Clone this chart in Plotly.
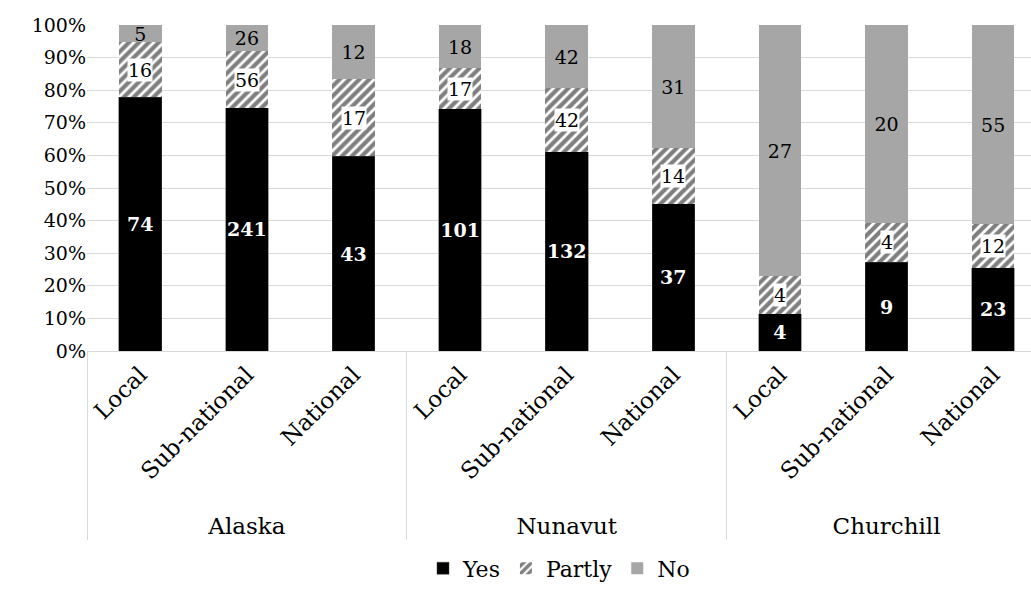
import plotly.graph_objects as go

regions = ["Alaska", "Alaska", "Alaska", "Nunavut", "Nunavut", "Nunavut", "Churchill", "Churchill", "Churchill"]
levels = ["Local", "Sub-national", "National"] * 3
yes = [74, 241, 43, 101, 132, 37, 4, 9, 23]
partly = [16, 56, 17, 17, 42, 14, 4, 4, 12]
no = [5, 26, 12, 18, 42, 31, 27, 20, 55]
ytick_vals = [0, 10, 20, 30, 40, 50, 60, 70, 80, 90, 100]
ytick_text = [f"{v}%" for v in ytick_vals]

FONT = "DejaVu Serif"
x = [regions, levels]
totals = [a + b + c for a, b, c in zip(yes, partly, no)]
pct = lambda arr: [v / t * 100 for v, t in zip(arr, totals)]

fig = go.Figure()
fig.add_trace(go.Bar(
    x=x, y=pct(yes), name="Yes", marker=dict(color="black", line=dict(color="#444", width=0.5)),
    text=[str(v) for v in yes], textposition="inside", insidetextanchor="middle",
    constraintext="none", textangle=0,
    textfont=dict(color="white", size=19, family=FONT, weight="bold"),
))
fig.add_trace(go.Bar(
    x=x, y=pct(partly), name="Partly",
    marker=dict(color="white", line=dict(width=0),
                pattern=dict(shape="/", fgcolor="black", bgcolor="white", size=7, solidity=0.6)),
))
fig.add_trace(go.Bar(
    x=x, y=pct(no), name="No", marker=dict(color="#a6a6a6", line=dict(width=0)),
    text=[str(v) for v in no], textposition="inside", insidetextanchor="middle",
    constraintext="none", textangle=0,
    textfont=dict(color="black", size=19, family=FONT),
))

py = pct(yes)
pp = pct(partly)
for i, v in enumerate(partly):
    fig.add_annotation(
        x=i, y=py[i] + pp[i] / 2, xref="x", yref="y", text=str(v), showarrow=False,
        bgcolor="white", borderpad=0, font=dict(size=19, family=FONT, color="black"),
    )

fig.update_layout(
    width=1031, height=590, barmode="stack", bargap=0.6,
    margin=dict(l=87, r=0, t=25, b=235),
    plot_bgcolor="white", paper_bgcolor="white",
    font=dict(family=FONT, size=19, color="black"),
    showlegend=True,
    legend=dict(orientation="h", x=0.5, xanchor="center", y=-0.667, yanchor="middle",
                traceorder="normal", font=dict(size=22, family=FONT),
                itemwidth=30, tracegroupgap=0),
    uniformtext=dict(mode="show", minsize=18),
)
fig.update_yaxes(range=[0, 100], tickvals=ytick_vals, ticktext=ytick_text,
                 showgrid=True, gridcolor="#d9d9d9", gridwidth=1, zeroline=False,
                 showline=False, ticks="", tickfont=dict(size=19, family=FONT))
fig.update_xaxes(type="multicategory", range=[-0.5, 8.355], tickangle=-45, automargin=False,
                 showline=True, linecolor="#d9d9d9", showdividers=True, dividercolor="#d9d9d9",
                 dividerwidth=1, tickfont=dict(size=23, family=FONT), ticks="")

fig.write_html("out.html")
